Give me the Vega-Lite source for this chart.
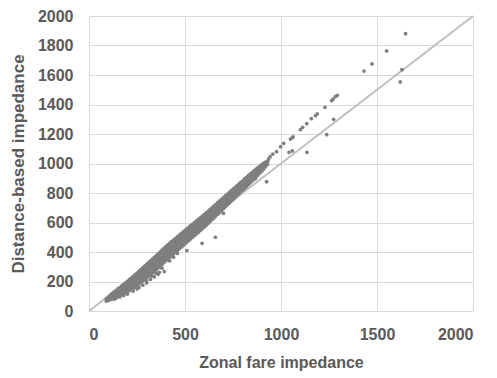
{
  "$schema": "https://vega.github.io/schema/vega-lite/v6.json",
  "autosize": {"type": "none"},
  "padding": {"left": 89, "top": 16, "right": 24, "bottom": 67},
  "width": 384,
  "height": 295,
  "background": "white",
  "config": {
    "view": {"stroke": null},
    "axis": {
      "domain": false,
      "ticks": false,
      "tickSize": 0,
      "grid": true,
      "gridColor": "#d9d9d9",
      "gridWidth": 1,
      "labelFont": "Liberation Sans",
      "labelFontWeight": "bold",
      "labelFontSize": 16,
      "labelColor": "#595959",
      "labelOverlap": false,
      "titleFont": "Liberation Sans",
      "titleFontWeight": "bold",
      "titleFontSize": 16,
      "titleColor": "#595959"
    }
  },
  "datasets": {
    "diag": [{"x": 0, "y": 0}, {"x": 2000, "y": 2000}],
    "pts": [
      {"x":90,"y":67},{"x":90,"y":83},
      {"x":110,"y":77},{"x":110,"y":92},{"x":110,"y":107},
      {"x":130,"y":88},{"x":130,"y":108},{"x":130,"y":128},
      {"x":150,"y":100},{"x":150,"y":117},{"x":150,"y":133},{"x":150,"y":150},
      {"x":170,"y":110},{"x":170,"y":125},{"x":170,"y":140},{"x":170,"y":155},{"x":170,"y":170},
      {"x":190,"y":123},{"x":190,"y":140},{"x":190,"y":157},{"x":190,"y":174},{"x":190,"y":191},
      {"x":210,"y":138},{"x":210,"y":156},{"x":210,"y":175},{"x":210,"y":194},{"x":210,"y":212},
      {"x":230,"y":155},{"x":230,"y":171},{"x":230,"y":187},{"x":230,"y":203},{"x":230,"y":219},{"x":230,"y":235},
      {"x":250,"y":173},{"x":250,"y":190},{"x":250,"y":207},{"x":250,"y":223},{"x":250,"y":240},{"x":250,"y":257},
      {"x":270,"y":193},{"x":270,"y":211},{"x":270,"y":228},{"x":270,"y":246},{"x":270,"y":263},{"x":270,"y":281},
      {"x":290,"y":215},{"x":290,"y":233},{"x":290,"y":251},{"x":290,"y":269},{"x":290,"y":287},{"x":290,"y":305},
      {"x":310,"y":237},{"x":310,"y":255},{"x":310,"y":274},{"x":310,"y":292},{"x":310,"y":311},{"x":310,"y":329},
      {"x":330,"y":258},{"x":330,"y":277},{"x":330,"y":296},{"x":330,"y":314},{"x":330,"y":333},{"x":330,"y":352},
      {"x":350,"y":280},{"x":350,"y":299},{"x":350,"y":318},{"x":350,"y":338},{"x":350,"y":357},{"x":350,"y":376},
      {"x":370,"y":304},{"x":370,"y":323},{"x":370,"y":342},{"x":370,"y":362},{"x":370,"y":381},{"x":370,"y":400},
      {"x":390,"y":328},{"x":390,"y":347},{"x":390,"y":366},{"x":390,"y":386},{"x":390,"y":405},{"x":390,"y":424},
      {"x":410,"y":352},{"x":410,"y":371},{"x":410,"y":390},{"x":410,"y":410},{"x":410,"y":429},{"x":410,"y":448},
      {"x":430,"y":376},{"x":430,"y":395},{"x":430,"y":414},{"x":430,"y":432},{"x":430,"y":451},{"x":430,"y":470},
      {"x":450,"y":399},{"x":450,"y":418},{"x":450,"y":437},{"x":450,"y":455},{"x":450,"y":474},{"x":450,"y":493},
      {"x":470,"y":422},{"x":470,"y":440},{"x":470,"y":459},{"x":470,"y":477},{"x":470,"y":496},{"x":470,"y":514},
      {"x":490,"y":444},{"x":490,"y":462},{"x":490,"y":481},{"x":490,"y":499},{"x":490,"y":518},{"x":490,"y":536},
      {"x":510,"y":467},{"x":510,"y":485},{"x":510,"y":503},{"x":510,"y":521},{"x":510,"y":539},{"x":510,"y":557},
      {"x":530,"y":489},{"x":530,"y":507},{"x":530,"y":525},{"x":530,"y":543},{"x":530,"y":561},{"x":530,"y":579},
      {"x":550,"y":512},{"x":550,"y":530},{"x":550,"y":547},{"x":550,"y":565},{"x":550,"y":582},{"x":550,"y":600},
      {"x":570,"y":534},{"x":570,"y":552},{"x":570,"y":569},{"x":570,"y":587},{"x":570,"y":604},{"x":570,"y":622},
      {"x":590,"y":557},{"x":590,"y":574},{"x":590,"y":591},{"x":590,"y":609},{"x":590,"y":626},{"x":590,"y":643},
      {"x":610,"y":581},{"x":610,"y":598},{"x":610,"y":615},{"x":610,"y":631},{"x":610,"y":648},{"x":610,"y":665},
      {"x":630,"y":606},{"x":630,"y":622},{"x":630,"y":639},{"x":630,"y":655},{"x":630,"y":672},{"x":630,"y":688},
      {"x":650,"y":631},{"x":650,"y":647},{"x":650,"y":663},{"x":650,"y":679},{"x":650,"y":695},{"x":650,"y":711},
      {"x":670,"y":656},{"x":670,"y":672},{"x":670,"y":687},{"x":670,"y":703},{"x":670,"y":718},{"x":670,"y":734},
      {"x":690,"y":681},{"x":690,"y":696},{"x":690,"y":711},{"x":690,"y":727},{"x":690,"y":742},{"x":690,"y":757},
      {"x":710,"y":706},{"x":710,"y":725},{"x":710,"y":743},{"x":710,"y":762},{"x":710,"y":780},
      {"x":730,"y":731},{"x":730,"y":749},{"x":730,"y":767},{"x":730,"y":785},{"x":730,"y":803},
      {"x":750,"y":756},{"x":750,"y":774},{"x":750,"y":791},{"x":750,"y":809},{"x":750,"y":826},
      {"x":770,"y":781},{"x":770,"y":798},{"x":770,"y":815},{"x":770,"y":832},{"x":770,"y":849},
      {"x":790,"y":806},{"x":790,"y":823},{"x":790,"y":839},{"x":790,"y":856},{"x":790,"y":872},
      {"x":810,"y":831},{"x":810,"y":847},{"x":810,"y":863},{"x":810,"y":879},{"x":810,"y":895},
      {"x":830,"y":856},{"x":830,"y":872},{"x":830,"y":887},{"x":830,"y":903},{"x":830,"y":918},
      {"x":850,"y":882},{"x":850,"y":897},{"x":850,"y":911},{"x":850,"y":926},{"x":850,"y":940},
      {"x":870,"y":908},{"x":870,"y":926},{"x":870,"y":944},{"x":870,"y":962},
      {"x":890,"y":935},{"x":890,"y":951},{"x":890,"y":967},{"x":890,"y":983},
      {"x":910,"y":963},{"x":910,"y":983},{"x":910,"y":1003},
      {"x":930,"y":995},{"x":930,"y":1015},
      {"x":100,"y":72},{"x":100,"y":83},{"x":100,"y":94},
      {"x":120,"y":83},{"x":120,"y":100},{"x":120,"y":117},
      {"x":140,"y":94},{"x":140,"y":109},{"x":140,"y":123},{"x":140,"y":138},
      {"x":160,"y":105},{"x":160,"y":123},{"x":160,"y":141},{"x":160,"y":159},
      {"x":180,"y":116},{"x":180,"y":132},{"x":180,"y":148},{"x":180,"y":164},{"x":180,"y":180},
      {"x":200,"y":131},{"x":200,"y":149},{"x":200,"y":166},{"x":200,"y":184},{"x":200,"y":201},
      {"x":220,"y":147},{"x":220,"y":162},{"x":220,"y":177},{"x":220,"y":193},{"x":220,"y":208},{"x":220,"y":223},
      {"x":240,"y":164},{"x":240,"y":180},{"x":240,"y":197},{"x":240,"y":213},{"x":240,"y":230},{"x":240,"y":246},
      {"x":260,"y":183},{"x":260,"y":200},{"x":260,"y":217},{"x":260,"y":235},{"x":260,"y":252},{"x":260,"y":269},
      {"x":280,"y":204},{"x":280,"y":222},{"x":280,"y":239},{"x":280,"y":257},{"x":280,"y":274},{"x":280,"y":292},
      {"x":300,"y":226},{"x":300,"y":244},{"x":300,"y":262},{"x":300,"y":280},{"x":300,"y":298},{"x":300,"y":316},
      {"x":320,"y":248},{"x":320,"y":266},{"x":320,"y":285},{"x":320,"y":303},{"x":320,"y":322},{"x":320,"y":340},
      {"x":340,"y":269},{"x":340,"y":288},{"x":340,"y":307},{"x":340,"y":325},{"x":340,"y":344},{"x":340,"y":363},
      {"x":360,"y":292},{"x":360,"y":311},{"x":360,"y":330},{"x":360,"y":350},{"x":360,"y":369},{"x":360,"y":388},
      {"x":380,"y":316},{"x":380,"y":335},{"x":380,"y":354},{"x":380,"y":374},{"x":380,"y":393},{"x":380,"y":412},
      {"x":400,"y":340},{"x":400,"y":359},{"x":400,"y":378},{"x":400,"y":398},{"x":400,"y":417},{"x":400,"y":436},
      {"x":420,"y":364},{"x":420,"y":383},{"x":420,"y":402},{"x":420,"y":420},{"x":420,"y":439},{"x":420,"y":458},
      {"x":440,"y":387},{"x":440,"y":406},{"x":440,"y":425},{"x":440,"y":443},{"x":440,"y":462},{"x":440,"y":481},
      {"x":460,"y":411},{"x":460,"y":429},{"x":460,"y":448},{"x":460,"y":466},{"x":460,"y":485},{"x":460,"y":503},
      {"x":480,"y":433},{"x":480,"y":451},{"x":480,"y":470},{"x":480,"y":488},{"x":480,"y":507},{"x":480,"y":525},
      {"x":500,"y":456},{"x":500,"y":474},{"x":500,"y":492},{"x":500,"y":510},{"x":500,"y":528},{"x":500,"y":546},
      {"x":520,"y":478},{"x":520,"y":496},{"x":520,"y":514},{"x":520,"y":532},{"x":520,"y":550},{"x":520,"y":568},
      {"x":540,"y":501},{"x":540,"y":519},{"x":540,"y":536},{"x":540,"y":554},{"x":540,"y":571},{"x":540,"y":589},
      {"x":560,"y":523},{"x":560,"y":541},{"x":560,"y":558},{"x":560,"y":576},{"x":560,"y":593},{"x":560,"y":611},
      {"x":580,"y":546},{"x":580,"y":563},{"x":580,"y":580},{"x":580,"y":598},{"x":580,"y":615},{"x":580,"y":632},
      {"x":600,"y":569},{"x":600,"y":586},{"x":600,"y":603},{"x":600,"y":619},{"x":600,"y":636},{"x":600,"y":653},
      {"x":620,"y":594},{"x":620,"y":610},{"x":620,"y":627},{"x":620,"y":643},{"x":620,"y":660},{"x":620,"y":676},
      {"x":640,"y":619},{"x":640,"y":635},{"x":640,"y":651},{"x":640,"y":667},{"x":640,"y":683},{"x":640,"y":699},
      {"x":660,"y":644},{"x":660,"y":660},{"x":660,"y":675},{"x":660,"y":691},{"x":660,"y":706},{"x":660,"y":722},
      {"x":680,"y":669},{"x":680,"y":684},{"x":680,"y":699},{"x":680,"y":715},{"x":680,"y":730},{"x":680,"y":745},
      {"x":700,"y":694},{"x":700,"y":712},{"x":700,"y":731},{"x":700,"y":749},{"x":700,"y":768},
      {"x":720,"y":719},{"x":720,"y":737},{"x":720,"y":755},{"x":720,"y":773},{"x":720,"y":791},
      {"x":740,"y":744},{"x":740,"y":762},{"x":740,"y":779},{"x":740,"y":797},{"x":740,"y":814},
      {"x":760,"y":769},{"x":760,"y":786},{"x":760,"y":803},{"x":760,"y":820},{"x":760,"y":837},
      {"x":780,"y":794},{"x":780,"y":811},{"x":780,"y":827},{"x":780,"y":844},{"x":780,"y":860},
      {"x":800,"y":819},{"x":800,"y":835},{"x":800,"y":851},{"x":800,"y":867},{"x":800,"y":883},
      {"x":820,"y":844},{"x":820,"y":860},{"x":820,"y":875},{"x":820,"y":891},{"x":820,"y":906},
      {"x":840,"y":869},{"x":840,"y":884},{"x":840,"y":899},{"x":840,"y":914},{"x":840,"y":929},
      {"x":860,"y":895},{"x":860,"y":914},{"x":860,"y":932},{"x":860,"y":951},
      {"x":880,"y":922},{"x":880,"y":939},{"x":880,"y":955},{"x":880,"y":972},
      {"x":900,"y":949},{"x":900,"y":971},{"x":900,"y":993},
      {"x":920,"y":979},{"x":920,"y":994},{"x":920,"y":1009},
      {"x":935,"y":1030},
      {"x":943,"y":1046},{"x":957,"y":1064},{"x":977,"y":1080},{"x":998,"y":1114},{"x":1014,"y":1137},
      {"x":1042,"y":1076},{"x":1049,"y":1166},{"x":1059,"y":1175},{"x":1063,"y":1180},{"x":1059,"y":1085},
      {"x":1101,"y":1229},{"x":1113,"y":1245},{"x":1134,"y":1270},{"x":1135,"y":1076},{"x":1158,"y":1304},
      {"x":1179,"y":1324},{"x":1189,"y":1336},{"x":1229,"y":1381},{"x":1238,"y":1195},{"x":1264,"y":1426},
      {"x":1271,"y":1437},{"x":1274,"y":1300},{"x":1283,"y":1453},{"x":1293,"y":1462},
      {"x":1432,"y":1627},{"x":1474,"y":1675},{"x":1550,"y":1763},{"x":1649,"y":1880},{"x":1630,"y":1636},{"x":1621,"y":1553},
      {"x":865,"y":895},{"x":925,"y":877},{"x":700,"y":662},{"x":658,"y":500},{"x":589,"y":459},{"x":510,"y":410},
      {"x":392,"y":267},{"x":366,"y":262},{"x":349,"y":256},{"x":323,"y":244},{"x":327,"y":237},
      {"x":130,"y":80},{"x":140,"y":85},{"x":160,"y":95},{"x":180,"y":105},{"x":200,"y":115},{"x":230,"y":135},
      {"x":250,"y":150},{"x":260,"y":160},{"x":280,"y":175},{"x":300,"y":190},{"x":300,"y":205},{"x":320,"y":215},
      {"x":340,"y":232},{"x":360,"y":250},{"x":380,"y":290},{"x":420,"y":340},{"x":440,"y":365},{"x":460,"y":390}
    ]
  },
  "encoding": {
    "x": {
      "field": "x", "type": "quantitative",
      "scale": {"domain": [0, 2000], "nice": false},
      "axis": {"values": [0, 500, 1000, 1500, 2000], "format": "d", "labelOverlap": false, "labelPadding": 15, "title": "Zonal fare impedance", "titlePadding": 12}
    },
    "y": {
      "field": "y", "type": "quantitative",
      "scale": {"domain": [0, 2000], "nice": false},
      "axis": {"values": [0, 200, 400, 600, 800, 1000, 1200, 1400, 1600, 1800, 2000], "tickCount": 11, "format": "d", "labelOverlap": false, "labelPadding": 16, "title": "Distance-based impedance", "titlePadding": 10, "titleFontSize": 17}
    }
  },
  "layer": [
    {
      "data": {"name": "diag"},
      "mark": {"type": "line", "color": "#bfbfbf", "strokeWidth": 2}
    },
    {
      "data": {"name": "pts"},
      "mark": {"type": "point", "filled": true, "color": "#7f7f7f", "opacity": 1, "size": 14}
    }
  ]
}
